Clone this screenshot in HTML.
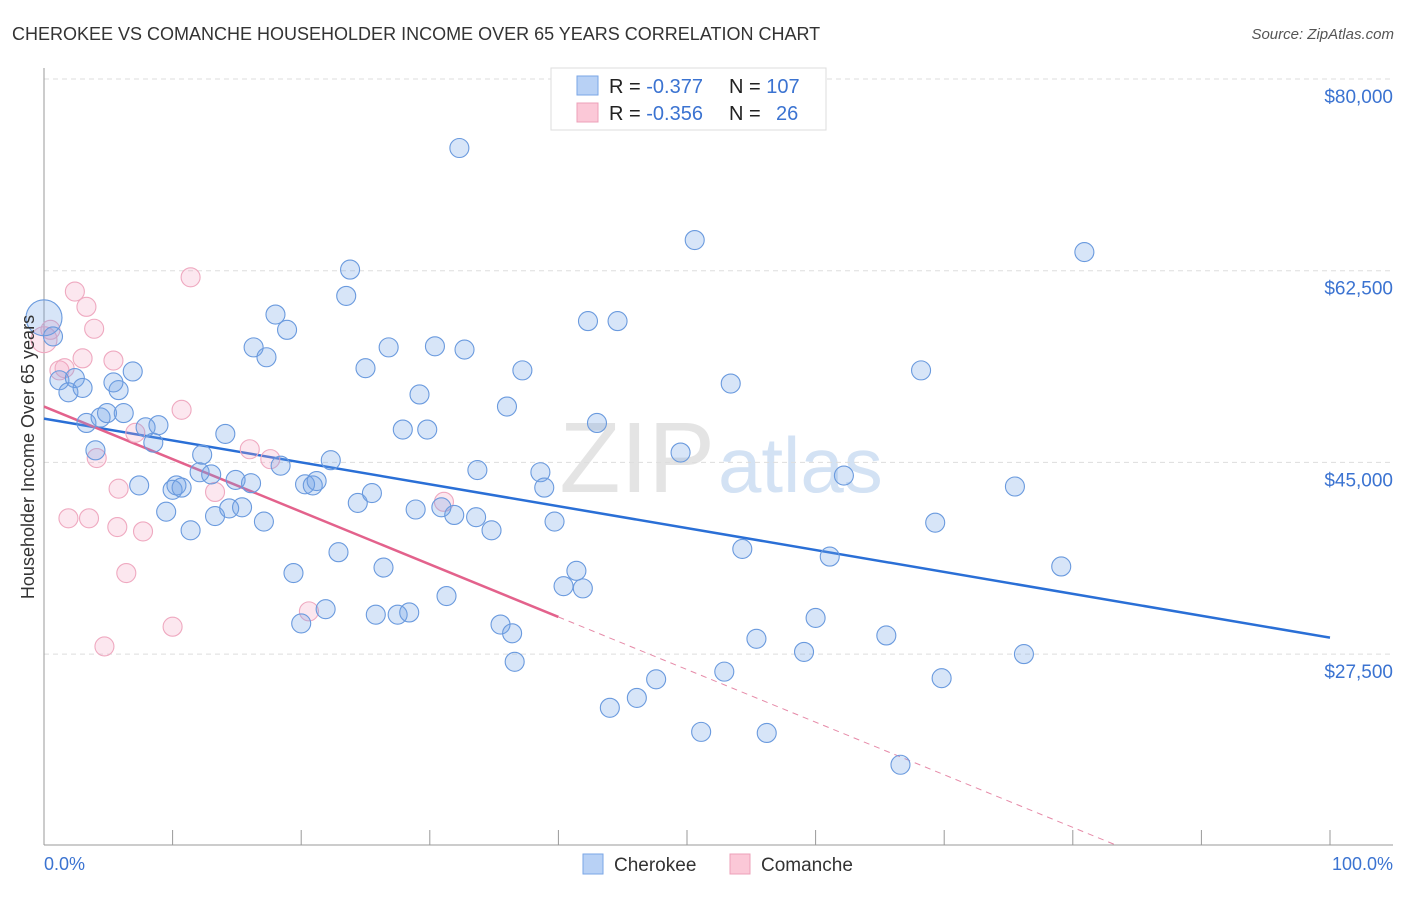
<!DOCTYPE html>
<html><head><meta charset="utf-8"><style>
body{margin:0;background:#fff;font-family:"Liberation Sans",sans-serif}
svg text{font-family:"Liberation Sans",sans-serif}
</style></head><body>
<svg id="chart" width="1406" height="892" xmlns="http://www.w3.org/2000/svg">
<text x="12" y="40" font-size="18" fill="#333">CHEROKEE VS COMANCHE HOUSEHOLDER INCOME OVER 65 YEARS CORRELATION CHART</text>
<text x="1394" y="39" font-size="15" fill="#555" text-anchor="end" font-style="italic">Source: ZipAtlas.com</text>
<text x="715" y="492" font-size="100" fill="#e4e4e4" text-anchor="end" font-family="Liberation Serif">ZIP</text>
<text x="718" y="492" font-size="78" fill="#d3e2f4">atlas</text>
<g id="grid"></g><g id="axes"></g><g id="trend"></g><g id="pts"></g>
<text transform="translate(34,457) rotate(-90)" font-size="18" fill="#333" text-anchor="middle">Householder Income Over 65 years</text>
<text x="44" y="870" font-size="18" fill="#3b73d1">0.0%</text>
<text x="1393" y="870" font-size="18" fill="#3b73d1" text-anchor="end">100.0%</text>
<g>
<rect x="551" y="68" width="275" height="62" fill="#fff" stroke="#ddd"/>
<rect x="577" y="76" width="21" height="19" fill="#b8d1f5" stroke="#7aa6e6"/>
<rect x="577" y="103" width="21" height="19" fill="#fbc8d7" stroke="#eca0b8"/>
<text x="609" y="93" font-size="20" fill="#222">R = <tspan fill="#3b73d1">-0.377</tspan><tspan x="729">N = </tspan><tspan fill="#3b73d1">107</tspan></text>
<text x="609" y="120" font-size="20" fill="#222">R = <tspan fill="#3b73d1">-0.356</tspan><tspan x="729">N = </tspan><tspan x="776" fill="#3b73d1">26</tspan></text>
</g>
<g>
<rect x="583" y="854" width="20" height="20" fill="#b8d1f5" stroke="#7aa6e6"/>
<text x="614" y="871" font-size="19" fill="#333">Cherokee</text>
<rect x="730" y="854" width="20" height="20" fill="#fbc8d7" stroke="#eca0b8"/>
<text x="761" y="871" font-size="19" fill="#333">Comanche</text>
</g>
</svg>
<script>
const yTicks=[80000,62500,45000,27500];
const yTickLabels=["$80,000","$62,500","$45,000","$27,500"];
const xTicks=[0,10,20,30,40,50,60,70,80,90,100];
const blueX=[0,0.7,1.2,2.4,1.9,3.0,3.3,4.4,4.9,6.2,5.8,5.4,6.9,4.0,8.5,7.9,8.9,7.4,9.5,10.0,10.3,10.7,11.4,12.1,12.3,13.0,13.3,14.1,14.4,14.9,15.4,16.1,17.1,16.3,17.3,18.0,18.9,18.4,19.4,20.0,20.3,20.9,21.2,21.9,22.3,22.9,23.5,23.8,24.4,25.0,25.5,26.4,25.8,26.8,27.5,28.4,28.9,29.2,27.9,29.8,30.4,31.3,30.9,31.9,32.3,32.7,33.7,33.6,34.8,35.5,36.4,36.6,36.0,37.2,38.6,38.9,39.7,40.4,41.4,41.9,42.3,43.0,44.6,44.0,46.1,47.6,49.5,50.6,51.1,52.9,53.4,54.3,55.4,56.2,59.1,60.0,61.1,62.2,65.5,66.6,68.2,69.3,69.8,75.5,76.2,79.1,80.9];
const blueY=[58.2,56.5,52.5,52.7,51.4,51.8,48.6,49.1,49.5,49.5,51.6,52.3,53.3,46.1,46.8,48.2,48.4,42.9,40.5,42.5,42.9,42.7,38.8,44.1,45.7,43.9,40.1,47.6,40.8,43.4,40.9,43.1,39.6,55.5,54.6,58.5,57.1,44.7,34.9,30.3,43.0,42.9,43.3,31.6,45.2,36.8,60.2,62.6,41.3,53.6,42.2,35.4,31.1,55.5,31.1,31.3,40.7,51.2,48.0,48.0,55.6,32.8,40.9,40.2,73.7,55.3,44.3,40.0,38.8,30.2,29.4,26.8,50.1,53.4,44.1,42.7,39.6,33.7,35.1,33.5,57.9,48.6,57.9,22.6,23.5,25.2,45.9,65.3,20.4,25.9,52.2,37.1,28.9,20.3,27.7,30.8,36.4,43.8,29.2,17.4,53.4,39.5,25.3,42.8,27.5,35.5,64.2];
const pinkX=[0,0.5,2.4,3.3,3.9,1.2,1.6,3.0,5.4,7.1,10.7,11.4,4.1,5.8,1.9,3.5,5.7,7.7,6.4,4.7,10.0,13.3,16.0,17.6,20.6,31.1];
const pinkY=[56.2,57.1,60.6,59.2,57.2,53.4,53.6,54.5,54.3,47.7,49.8,61.9,45.4,42.6,39.9,39.9,39.1,38.7,34.9,28.2,30.0,42.3,46.2,45.3,31.4,41.4];
const blueTrend=[49.0,29.0];
const pinkTrend=[50.1,10.0];
const pinkTrendEnds=[0,40,83.5];
const NS='http://www.w3.org/2000/svg';
const X=p=>44+p*12.86;
const Y=v=>79+(80-v)/17.5*191.7;
function mk(t,a,parent){const e=document.createElementNS(NS,t);for(const k in a)e.setAttribute(k,a[k]);document.getElementById(parent).appendChild(e);return e;}
yTicks.forEach((v,i)=>{
 const g=mk('line',{x1:44,x2:1393,y1:Y(v/1000),y2:Y(v/1000),stroke:'#ddd','stroke-dasharray':'5,4'},'grid');
 
 
 const t=mk('text',{x:1393,y:Y(v/1000)+24,'font-size':19,fill:'#3b73d1','text-anchor':'end'},'grid');
 t.textContent=yTickLabels[i];
 
 
});
const ax=mk('line',{x1:44,x2:44,y1:68,y2:845,stroke:'#999'},'axes');


const bx=mk('line',{x1:44,x2:1393,y1:845,y2:845,stroke:'#999'},'axes');


xTicks.forEach(p=>{const t=mk('line',{x1:X(p),x2:X(p),y1:830,y2:845,stroke:'#999'},'axes');
 
 });
function pt(x,y,fill,stroke,r,name){const c=mk('circle',{cx:X(x),cy:Y(y),r:r,fill:fill,stroke:stroke,'stroke-width':1.1},'pts');
 
 }
pinkX.forEach((x,i)=>pt(x,pinkY[i],'rgba(245,160,190,0.25)','#efa9c0',i==0?13:9.5,'comanche-point'));
blueX.forEach((x,i)=>pt(x,blueY[i],'rgba(110,160,230,0.28)','#6a9ade',i==0?18:9.5,'cherokee-point'));
const pv=p=>pinkTrend[0]+(pinkTrend[1]-pinkTrend[0])*p/pinkTrendEnds[2];
const bt=mk('line',{x1:X(0),y1:Y(blueTrend[0]),x2:X(100),y2:Y(blueTrend[1]),stroke:'#2a6fd6','stroke-width':2.5},'trend');


const pt1=mk('line',{x1:X(0),y1:Y(pv(0)),x2:X(pinkTrendEnds[1]),y2:Y(pv(pinkTrendEnds[1])),stroke:'#e3628c','stroke-width':2.5},'trend');


const pt2=mk('line',{x1:X(pinkTrendEnds[1]),y1:Y(pv(pinkTrendEnds[1])),x2:X(pinkTrendEnds[2]),y2:Y(pv(pinkTrendEnds[2])),stroke:'#e68aa8','stroke-width':1,'stroke-dasharray':'6,5'},'trend');


</script>
</body></html>
